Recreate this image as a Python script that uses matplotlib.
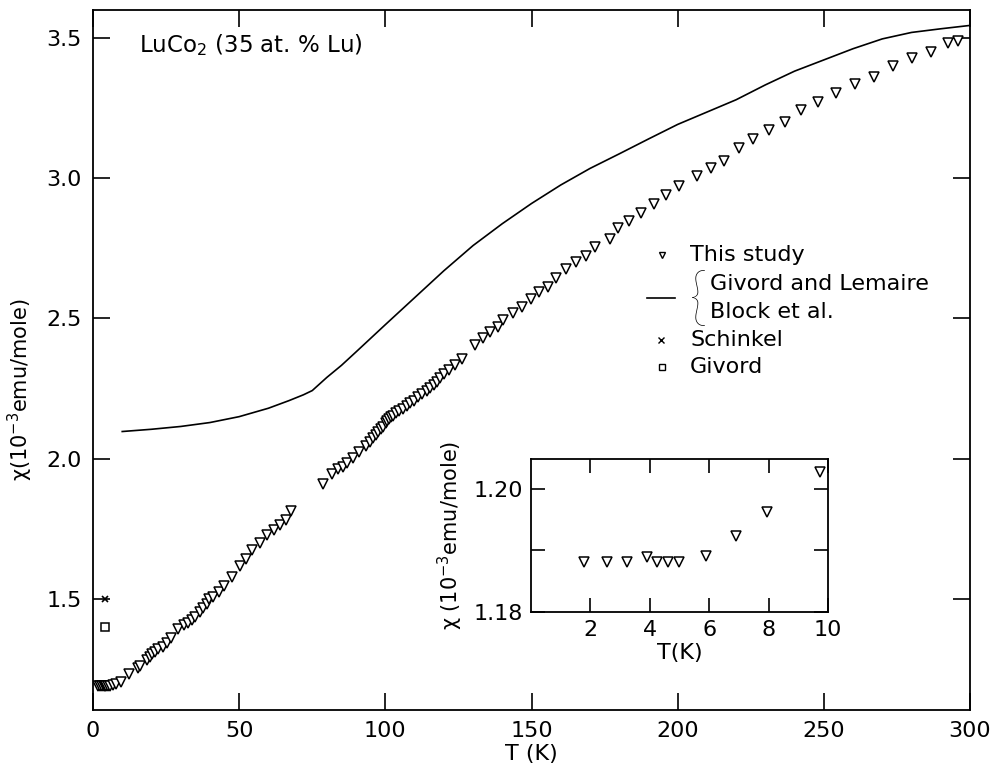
import matplotlib.pyplot as plt

# low temperature points of this study (also in the inset)
t_low = [1.8, 2.56, 3.24, 3.91, 4.24, 4.6, 4.99, 5.88, 6.91, 7.93, 9.72]
chi_low = [1.1881, 1.1881, 1.1881, 1.1889, 1.1881, 1.1881, 1.1881, 1.1890,
           1.1924, 1.1962, 1.2027]

# this study, above 10 K
t_study = [12.3, 15.3, 16.1, 18.4, 19.5, 20.3, 21.3, 22.3, 23.8, 25.2, 26.6,
           29.2, 31.2, 32.6, 33.7, 34.9, 36.6, 37.7, 38.9, 39.8, 41.1, 43.2,
           44.9, 47.4, 50.3, 52.3, 54.5, 57.1, 59.6, 62.0, 63.9, 65.9, 67.9,
           78.7, 81.8, 83.9, 85.4, 86.9, 88.8, 91.1, 93.3, 94.7, 95.8, 96.8,
           97.5, 98.4, 99.3, 100.1, 100.7, 101.3, 101.9, 102.7, 103.6, 104.7,
           106.1, 107.5, 108.6, 109.8, 111.2, 112.6, 114.1, 115.2, 116.6,
           117.7, 118.6, 120.0, 121.7, 123.7, 126.3,
           130.7, 133.5, 135.8, 138.7, 140.4, 143.6, 146.7, 149.7, 152.6,
           155.6, 158.4, 161.9, 165.1, 168.6, 171.6, 176.9, 179.5, 183.3,
           187.4, 191.8, 196.1, 200.6,
           206.6, 211.4, 215.7, 221.0, 225.8, 231.1, 236.6, 242.3, 248.1,
           254.3, 260.6, 267.0, 273.6, 280.2, 286.8, 292.6, 296.0]
chi_study = [1.233, 1.253, 1.262, 1.283, 1.294, 1.303, 1.312, 1.321, 1.330,
             1.342, 1.360, 1.392, 1.407, 1.416, 1.425, 1.435, 1.455, 1.467,
             1.482, 1.499, 1.506, 1.526, 1.546, 1.577, 1.618, 1.643, 1.675,
             1.701, 1.728, 1.746, 1.764, 1.782, 1.814,
             1.909, 1.944, 1.963, 1.972, 1.984, 2.002, 2.025, 2.045, 2.061,
             2.073, 2.085, 2.096, 2.106, 2.114, 2.126, 2.135, 2.142, 2.148,
             2.153, 2.162, 2.169, 2.177, 2.188, 2.198, 2.207, 2.219, 2.231,
             2.243, 2.251, 2.263, 2.275, 2.287, 2.302, 2.318, 2.333, 2.354,
             2.406, 2.429, 2.453, 2.471, 2.495, 2.519, 2.542, 2.570, 2.593,
             2.611, 2.646, 2.675, 2.703, 2.724, 2.756, 2.783, 2.822, 2.848,
             2.875, 2.908, 2.939, 2.972,
             3.009, 3.037, 3.063, 3.108, 3.139, 3.173, 3.201, 3.242, 3.271,
             3.303, 3.335, 3.361, 3.400, 3.429, 3.450, 3.482, 3.488]

# Givord and Lemaire / Block et al. curve
t_lit = [10, 20, 30, 40, 50, 60, 67, 72, 75, 80, 85, 90, 100, 110, 120, 130,
         140, 150, 160, 170, 180, 190, 200, 210, 220, 230, 240, 250, 260, 270,
         280, 290, 300]
chi_lit = [2.097, 2.105, 2.115, 2.129, 2.150, 2.180, 2.207, 2.228, 2.243,
           2.290, 2.333, 2.381, 2.478, 2.574, 2.670, 2.760, 2.838, 2.910,
           2.976, 3.035, 3.087, 3.140, 3.192, 3.236, 3.280, 3.333, 3.382,
           3.422, 3.462, 3.497, 3.520, 3.533, 3.545]

t_schinkel = [4.2]
chi_schinkel = [1.50]
t_givord = [4.2]
chi_givord = [1.40]

FS = 16
plt.rcParams['font.family'] = 'DejaVu Sans'

fig = plt.figure(figsize=(9.98, 7.73), dpi=100)
ax = fig.add_axes([93/998, 1 - 710/773, 877/998, 700/773])

tri = dict(marker='v', ms=6.5, mfc='white', mec='black', mew=1.1, ls='none')
ax.plot(t_lit, chi_lit, color='black', lw=1.2)
ax.plot(t_low + t_study, chi_low + chi_study, **tri)
ax.plot(t_schinkel, chi_schinkel, marker='x', ms=5, mec='black', mew=1.2, ls='none')
ax.plot(t_givord, chi_givord, marker='s', ms=6, mfc='white', mec='black', mew=1.1, ls='none')

ax.set_xlim(0, 300)
ax.set_ylim(1.104, 3.6)
ax.set_xticks([0, 50, 100, 150, 200, 250, 300])
ax.set_yticks([1.5, 2.0, 2.5, 3.0, 3.5])
ax.tick_params(direction='in', length=12, width=1.2, top=True, right=True,
               labelsize=FS, pad=8)
for s in ax.spines.values():
    s.set_linewidth(1.3)
ax.set_xlabel('T (K)', fontsize=FS, labelpad=2)
ax.set_ylabel('χ(10$^{-3}$emu/mole)', fontsize=15)
ax.yaxis.set_label_coords(-0.066, 0.457)

ax.text(0.053, 0.95, 'LuCo$_2$ (35 at. % Lu)', transform=ax.transAxes,
        fontsize=16.5, va='center')

# hand-made legend
tr = ax.transAxes
ax.plot([0.649], [0.650], transform=tr, marker='v', ms=5, mfc='white',
        mec='black', mew=1.0, ls='none')
ax.text(0.681, 0.650, 'This study', transform=tr, fontsize=FS, va='center')
ax.plot([0.632, 0.664], [0.589, 0.589], transform=tr, color='black', lw=1.2)
ax.text(0.680, 0.584, '{', transform=tr, fontsize=46, va='center',
        family='Lato', fontweight='light')
ax.text(0.703, 0.609, 'Givord and Lemaire', transform=tr, fontsize=FS, va='center')
ax.text(0.703, 0.568, 'Block et al.', transform=tr, fontsize=FS, va='center')
ax.plot([0.648], [0.529], transform=tr, marker='x', ms=4, mec='black',
        mew=1.0, ls='none')
ax.text(0.681, 0.529, 'Schinkel', transform=tr, fontsize=FS, va='center')
ax.plot([0.649], [0.490], transform=tr, marker='s', ms=4.5, mfc='white',
        mec='black', mew=1.0, ls='none')
ax.text(0.681, 0.490, 'Givord', transform=tr, fontsize=FS, va='center')

# inset
ins = fig.add_axes([531/998, 1 - 612/773, 297/998, 153/773])
ins.plot(t_low, chi_low, **tri)
ins.set_xlim(0, 10)
ins.set_ylim(1.18, 1.2048)
ins.set_xticks([2, 4, 6, 8, 10])
ins.set_yticks([1.18, 1.19, 1.20])
ins.set_yticklabels(['1.18', '', '1.20'])
ins.tick_params(direction='in', length=10, width=1.2, top=True, right=True,
                labelsize=FS, pad=6)
for s in ins.spines.values():
    s.set_linewidth(1.3)
ins.set_xlabel('T(K)', fontsize=FS, labelpad=2)
ins.set_ylabel('χ (10$^{-3}$emu/mole)', fontsize=15, labelpad=6)

fig.savefig('out.png', dpi=100)
